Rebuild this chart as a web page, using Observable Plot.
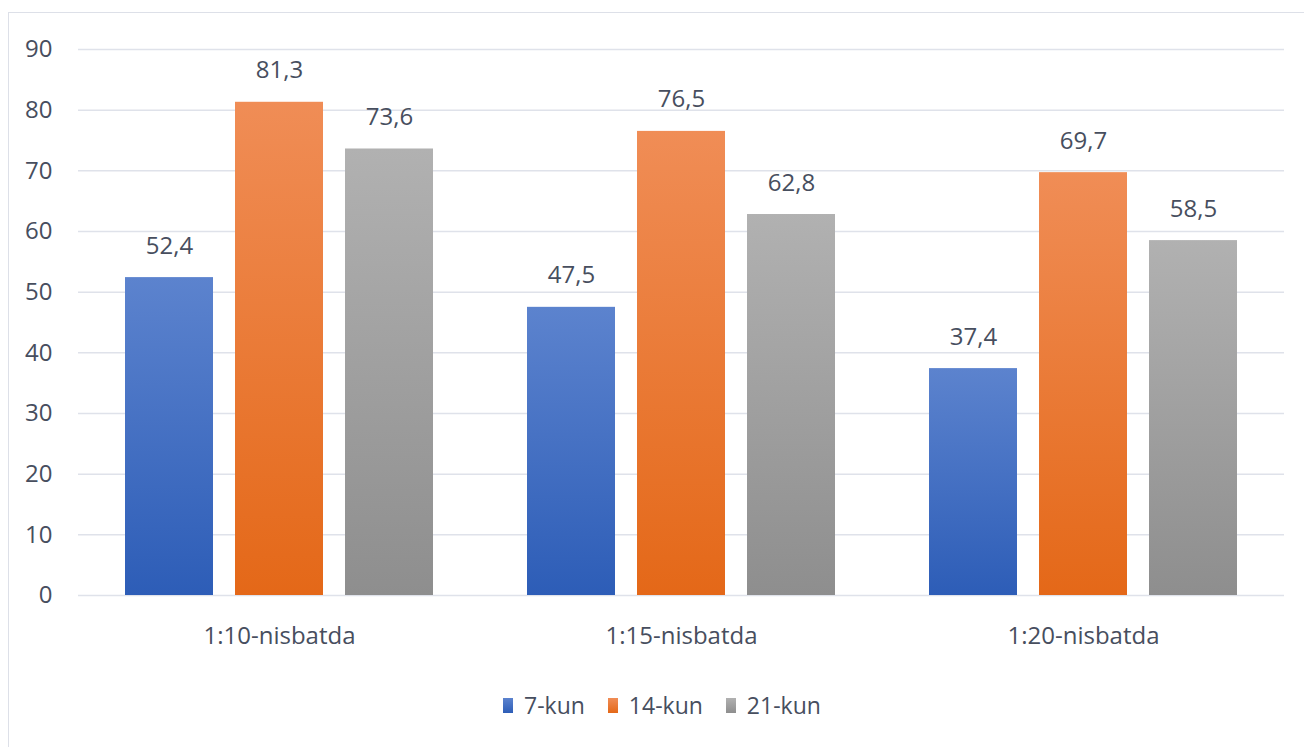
<!DOCTYPE html>
<html>
<head>
<meta charset="utf-8">
<script src="https://cdn.jsdelivr.net/npm/d3@7"></script>
<script src="https://cdn.jsdelivr.net/npm/@observablehq/plot@0.6"></script>
<style>
  html, body { margin: 0; padding: 0; background: #fff; overflow: hidden; }
  #wrap { position: relative; width: 1304px; height: 747px; font-family: "Open Sans", sans-serif; color: #474e5e; }
  #frame { position: absolute; left: 8px; top: 12px; right: -10px; bottom: -10px; border-left: 1.5px solid #dde0e8; border-top: 1.5px solid #dde0e8; pointer-events: none; }
  #chart svg { display: block; }
  #legend { position: absolute; left: 503px; top: 689px; display: flex; align-items: center; font-size: 23px; line-height: 32px; }
  .item { display: flex; align-items: center; margin-right: 23px; }
  .sw { width: 10px; height: 15px; margin-right: 11px; }
</style>
</head>
<body>
<div id="wrap">
  <div id="chart"></div>
  <div id="legend"></div>
  <div id="frame"></div>
</div>
<script>
const categories = ["1:10-nisbatda", "1:15-nisbatda", "1:20-nisbatda"];
const series = ["7-kun", "14-kun", "21-kun"];
const values7 = [52.4, 47.5, 37.4];
const values14 = [81.3, 76.5, 69.7];
const values21 = [73.6, 62.8, 58.5];
const yTicks = [0, 10, 20, 30, 40, 50, 60, 70, 80, 90];

const seriesValues = [values7, values14, values21];
const gradients = [
  ["#5c83ce", "#2d5db7"],
  ["#f08d56", "#e46818"],
  ["#b1b1b1", "#8e8e8e"]
];

const rows = series.map((s, si) => categories.map((c, ci) => ({cat: c, series: s, value: seriesValues[si][ci]})));

// bar layout inside each category band (bandwidth 308): bar 88, gap 22
const insets = [
  {insetLeft: 0, insetRight: 220, dx: -110},
  {insetLeft: 110, insetRight: 110, dx: 0},
  {insetLeft: 220, insetRight: 0, dx: 110}
];

const fmt = v => v.toFixed(1).replace(".", ",");

const marks = [
  Plot.gridY(yTicks, {stroke: "#dfe2ea", strokeOpacity: 1, strokeWidth: 1.5}),
  Plot.axisY(yTicks, {tickSize: 0, tickPadding: 26, fontSize: 24, label: null, tickFormat: d => String(d)}),
  Plot.axisX({tickSize: 0, tickPadding: 31, fontSize: 24, label: null})
];
rows.forEach((data, si) => {
  marks.push(Plot.barY(data, {x: "cat", y: "value", fill: `url(#grad${si})`, insetLeft: insets[si].insetLeft, insetRight: insets[si].insetRight}));
  marks.push(Plot.text(data, {x: "cat", y: "value", text: d => fmt(d.value), dx: insets[si].dx, dy: -24, lineAnchor: "bottom", fontSize: 24, fill: "#474e5e"}));
});

const chart = Plot.plot({
  width: 1304,
  height: 689,
  marginLeft: 78,
  marginRight: 20,
  marginTop: 49,
  marginBottom: 94,
  style: {fontFamily: "Open Sans, sans-serif", fontSize: "24px", color: "#474e5e", background: "transparent"},
  x: {domain: categories, paddingInner: 0.234, paddingOuter: 0.117, label: null},
  y: {domain: [0, 90], label: null},
  marks
});

// gradient definitions
const ns = "http://www.w3.org/2000/svg";
const defs = document.createElementNS(ns, "defs");
gradients.forEach((g, i) => {
  const lg = document.createElementNS(ns, "linearGradient");
  lg.setAttribute("id", `grad${i}`);
  lg.setAttribute("x1", "0"); lg.setAttribute("y1", "0");
  lg.setAttribute("x2", "0"); lg.setAttribute("y2", "1");
  [[0, g[0]], [1, g[1]]].forEach(([o, c]) => {
    const st = document.createElementNS(ns, "stop");
    st.setAttribute("offset", o);
    st.setAttribute("stop-color", c);
    lg.appendChild(st);
  });
  defs.appendChild(lg);
});
chart.insertBefore(defs, chart.firstChild);
document.getElementById("chart").appendChild(chart);

// legend
const legend = document.getElementById("legend");
series.forEach((s, i) => {
  const it = document.createElement("div");
  it.className = "item";
  const sw = document.createElement("span");
  sw.className = "sw";
  sw.style.background = `linear-gradient(${gradients[i][0]}, ${gradients[i][1]})`;
  const t = document.createElement("span");
  t.textContent = s;
  it.appendChild(sw); it.appendChild(t);
  legend.appendChild(it);
});
</script>
</body>
</html>
